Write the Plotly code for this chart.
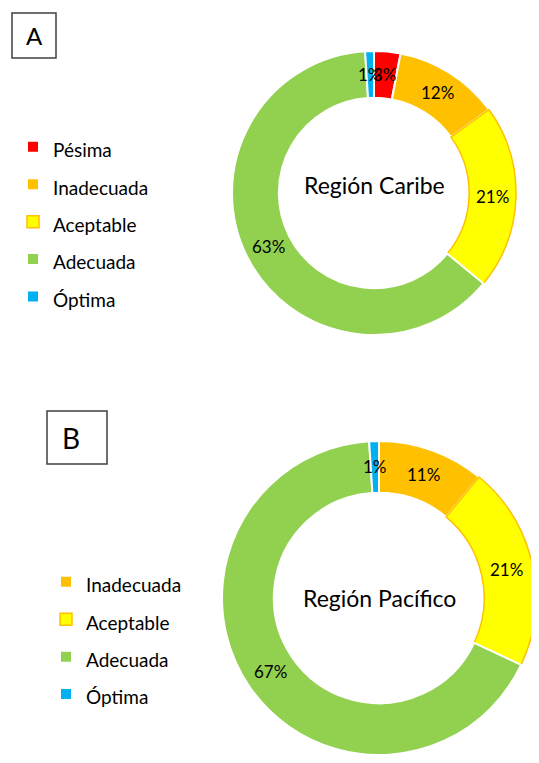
import math
import plotly.graph_objects as go

# Región Caribe (panel A)
caribe_labels = ["Pésima", "Inadecuada", "Aceptable", "Adecuada", "Óptima"]
caribe_values = [3, 12, 21, 63, 1]

# Región Pacífico (panel B)
pacifico_labels = ["Inadecuada", "Aceptable", "Adecuada", "Óptima"]
pacifico_values = [11, 21, 67, 1]

colors = {
    "Pésima": "#FF0000",
    "Inadecuada": "#FFC000",
    "Aceptable": "#FFFF00",
    "Adecuada": "#92D050",
    "Óptima": "#00B0F0",
}

# the page body has an 8px margin all round; keep the figure inside the window
OFF = 8
W, H = 539 - OFF, 763 - 2 * OFF
HOLE = 0.67
FONT = "Lato"


def paper(px, py):
    """page pixel -> paper coords"""
    return (px - OFF) / W, 1 - (py - OFF) / H


def label(fig, px, py, text, size):
    x, y = paper(px, py)
    fig.add_annotation(x=x, y=y, xref="paper", yref="paper",
                       xanchor="center", yanchor="middle",
                       text=text, showarrow=False,
                       font=dict(size=size, family=FONT, color="black"))


def add_donut(fig, labels, values, cx, cy, r, legend, title, title_dy):
    x0, y1 = paper(cx - r, cy - r)
    x1, y0 = paper(cx + r, cy + r)
    fig.add_trace(go.Pie(
        labels=[f"<span style='font-size:19px'>{l}</span>" for l in labels],
        values=values,
        sort=False,
        direction="clockwise",
        rotation=0,
        hole=HOLE,
        textinfo="none",
        marker=dict(
            colors=[colors[l] for l in labels],
            line=dict(color=["#FFC000" if l == "Aceptable" else "white" for l in labels],
                      width=[1.5 if l == "Aceptable" else 2 for l in labels]),
        ),
        domain=dict(x=[max(x0, 0), min(x1, 1)], y=[max(y0, 0), min(y1, 1)]),
        legend=legend,
        legendgroup=legend,  # own group, so shared labels are listed in both legends
    ))

    # percentage labels in the middle of the ring
    total = sum(values)
    rmid = r * (1 + HOLE) / 2
    cum = 0
    for v in values:
        a = 2 * math.pi * (cum + v / 2) / total
        cum += v
        label(fig, cx + rmid * math.sin(a), cy - rmid * math.cos(a), f"{v / total:.0%}", 17)

    label(fig, cx, cy + title_dy, title, 23)


def add_panel_tag(fig, text, x0, y0, x1, y1, size, dx=0):
    fx0, fy0 = paper(x0, y0)
    fx1, fy1 = paper(x1, y1)
    fig.add_shape(type="rect", xref="paper", yref="paper",
                  x0=fx0, x1=fx1, y0=fy0, y1=fy1,
                  line=dict(color="#404040", width=1.5))
    label(fig, (x0 + x1) / 2 + dx, (y0 + y1) / 2, text, size)


fig = go.Figure()
add_donut(fig, caribe_labels, caribe_values, 374, 193, 142, "legend", "Región Caribe", -8)
add_donut(fig, pacifico_labels, pacifico_values, 379, 598, 157, "legend2", "Región Pacífico", 0)

add_panel_tag(fig, "A", 12, 13, 56, 58, 24)
add_panel_tag(fig, "B", 47, 411, 107, 464, 28, dx=-6)

legend_style = dict(
    xanchor="left", yanchor="middle",
    font=dict(size=26.5, family=FONT, color="black"),
    bgcolor="rgba(0,0,0,0)", borderwidth=0,
)

fig.update_layout(
    width=W,
    height=H,
    margin=dict(t=0, b=0, l=0, r=0),
    paper_bgcolor="white",
    plot_bgcolor="white",
    showlegend=True,
    legend=dict(x=(13 - OFF) / W, y=1 - (222 - OFF) / H, **legend_style),
    legend2=dict(x=(46 - OFF) / W, y=1 - (638 - OFF) / H, **legend_style),
)

fig.write_html("out.html")
